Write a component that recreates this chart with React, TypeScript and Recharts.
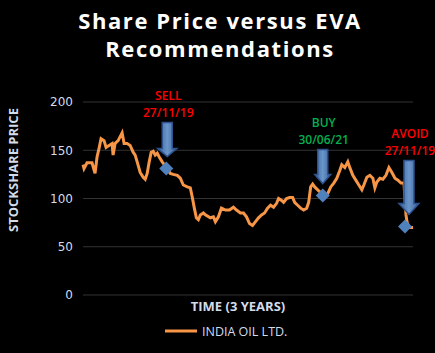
import { ComposedChart, Line, Scatter, XAxis, YAxis, CartesianGrid } from 'recharts';

// trading period index (0 = start of the 3 year window) and closing price
const periods = [
    0, 1, 4, 9, 12, 14, 16, 18, 21, 23, 26, 29, 30, 32, 35, 39, 41, 44, 47, 50,
    52, 54, 57, 60, 62, 64, 66, 68, 70, 72, 74, 76, 79, 81, 84, 87, 90, 94, 97, 100,
    104, 107, 109, 111, 113, 115, 117, 120, 122, 127, 130, 132, 135, 138, 142, 146, 150, 153, 157, 160,
    163, 166, 169, 172, 175, 178, 181, 184, 187, 190, 193, 195, 198, 200, 203, 206, 209, 211, 214, 217,
    220, 223, 225, 227, 229, 231, 233, 236, 239, 242, 244, 247, 250, 253, 256, 258, 261, 264, 266, 269,
    272, 275, 278, 280, 283, 286, 289, 291, 293, 296, 299, 302, 305, 308, 311, 314, 317, 320, 322, 323,
    325, 329,
];
const prices = [
    135, 131, 137, 137, 126, 143, 152, 162, 160, 153, 155, 157, 145, 157, 160, 168, 157, 157, 155, 148,
    145, 138, 127, 122, 120, 126, 138, 148, 149, 145, 147, 143, 138, 135, 131, 126, 125, 124, 121, 114,
    112, 111, 101, 90, 80, 78, 83, 85, 83, 80, 81, 76, 81, 90, 88, 88, 91, 88, 85, 85,
    81, 74, 72, 76, 80, 83, 85, 90, 93, 91, 95, 100, 98, 96, 100, 101, 101, 96, 93, 90,
    88, 90, 96, 112, 115, 112, 110, 107, 105, 103, 105, 112, 116, 121, 129, 135, 132, 138, 132, 124,
    119, 114, 109, 114, 122, 124, 121, 111, 117, 121, 120, 124, 132, 127, 121, 119, 116, 116, 83, 76,
    70, 70,
];

const signalPeriods = [83, 239, 321];
const signalPrices = [131, 103, 71];
const signalNames = ['SELL', 'BUY', 'AVOID'];
const signalDates = ['27/11/19', '30/06/21', '27/11/19'];

const seriesName = 'INDIA OIL LTD.';
const yTicks = [0, 50, 100, 150, 200];

const priceData = periods.map((t, i) => ({ t, price: prices[i] }));
const signalData = signalPeriods.map((t, i) => ({
    t,
    price: signalPrices[i],
    name: signalNames[i],
    date: signalDates[i],
}));

const signalColor: Record<string, string> = { SELL: '#ff0000', BUY: '#00b050', AVOID: '#ff0000' };
const arrowStyle: Record<string, { len: number; dx: number; head: number; half: number }> = {
    SELL: { len: 34, dx: 1, head: 8, half: 9.5 },
    BUY: { len: 34, dx: 0, head: 9, half: 8 },
    AVOID: { len: 54, dx: 4, head: 11, half: 10 },
};

const labelFont = '"Open Sans", sans-serif';

const SignalMark = (props: any) => {
    const { cx, cy, payload } = props;
    if (cx == null || cy == null) return null;
    const st = arrowStyle[payload.name];
    const ax = cx + st.dx;
    const tip = cy - 12;
    const top = tip - st.len;
    const neck = tip - st.head;
    const arrow = [
        [ax - 5, top], [ax + 5, top], [ax + 5, neck], [ax + st.half, neck],
        [ax, tip], [ax - st.half, neck], [ax - 5, neck],
    ].map(p => p.join(',')).join(' ');
    const color = signalColor[payload.name];
    return (
        <g>
            <polygon points={arrow} fill="url(#arrowFill)" stroke="#2f528f" strokeWidth={1.5} />
            <text x={ax + 1} y={top - 27} textAnchor="middle" dominantBaseline="central"
                fill={color} fontSize={12} fontWeight={600} fontFamily={labelFont}>{payload.name}</text>
            <text x={ax + 1} y={top - 10} textAnchor="middle" dominantBaseline="central"
                fill={color} fontSize={12} fontWeight={600} fontFamily={labelFont}>{payload.date}</text>
            <polygon
                points={`${cx},${cy - 7} ${cx + 7},${cy} ${cx},${cy + 7} ${cx - 7},${cy}`}
                fill="#4f81bd"
            />
        </g>
    );
};

export default function App() {
    return (
        <div style={{ position: 'absolute', left: 0, top: 0, width: 435, height: 353, background: '#000' }}>
            <div style={{
                position: 'absolute', left: 0, top: 6, width: 440, textAlign: 'center',
                color: '#ffffff', fontFamily: labelFont, fontWeight: 700, fontSize: 22,
                letterSpacing: 1.6, lineHeight: '28px',
            }}>
                Share Price versus EVA<br />Recommendations
            </div>
            <ComposedChart
                width={435}
                height={353}
                margin={{ top: 102, right: 22, bottom: 58, left: 0 }}
                style={{ position: 'absolute', left: 0, top: 0 }}
            >
                <defs>
                    <linearGradient id="arrowFill" x1="0" y1="0" x2="1" y2="0">
                        <stop offset="0%" stopColor="#3a6296" />
                        <stop offset="50%" stopColor="#6a96cc" />
                        <stop offset="100%" stopColor="#3a6296" />
                    </linearGradient>
                </defs>
                <CartesianGrid vertical={false} stroke="#333333" />
                <XAxis type="number" dataKey="t" domain={[0, 329]} hide />
                <YAxis
                    width={83}
                    domain={[0, 200]}
                    ticks={yTicks}
                    axisLine={false}
                    tickLine={false}
                    tickMargin={4}
                    tick={{ fill: '#d3dcea', fontSize: 12, fontFamily: '"DejaVu Sans", sans-serif' }}
                />
                <Line
                    data={priceData}
                    dataKey="price"
                    type="linear"
                    stroke="#f79646"
                    strokeWidth={3}
                    dot={false}
                    isAnimationActive={false}
                />
                <Scatter
                    data={signalData}
                    dataKey="price"
                    shape={SignalMark}
                    isAnimationActive={false}
                />
            </ComposedChart>
            <div style={{
                position: 'absolute', left: 13, top: 170, transform: 'translate(-50%, -50%) rotate(-90deg)',
                whiteSpace: 'nowrap', color: '#d3dcea', fontFamily: labelFont, fontWeight: 700, fontSize: 13,
            }}>
                STOCKSHARE PRICE
            </div>
            <div style={{
                position: 'absolute', left: 238, top: 306, transform: 'translate(-50%, -50%)',
                whiteSpace: 'nowrap', color: '#d3dcea', fontFamily: labelFont, fontWeight: 700, fontSize: 13,
            }}>
                TIME (3 YEARS)
            </div>
            <div style={{
                position: 'absolute', left: 165, top: 322, display: 'flex', alignItems: 'center',
                color: '#d3dcea', fontFamily: labelFont, fontSize: 12.5, whiteSpace: 'nowrap',
            }}>
                <svg width={33} height={18} style={{ marginRight: 4 }}>
                    <line x1={0} y1={9} x2={32} y2={9} stroke="#f79646" strokeWidth={3} />
                </svg>
                {seriesName}
            </div>
        </div>
    );
}
